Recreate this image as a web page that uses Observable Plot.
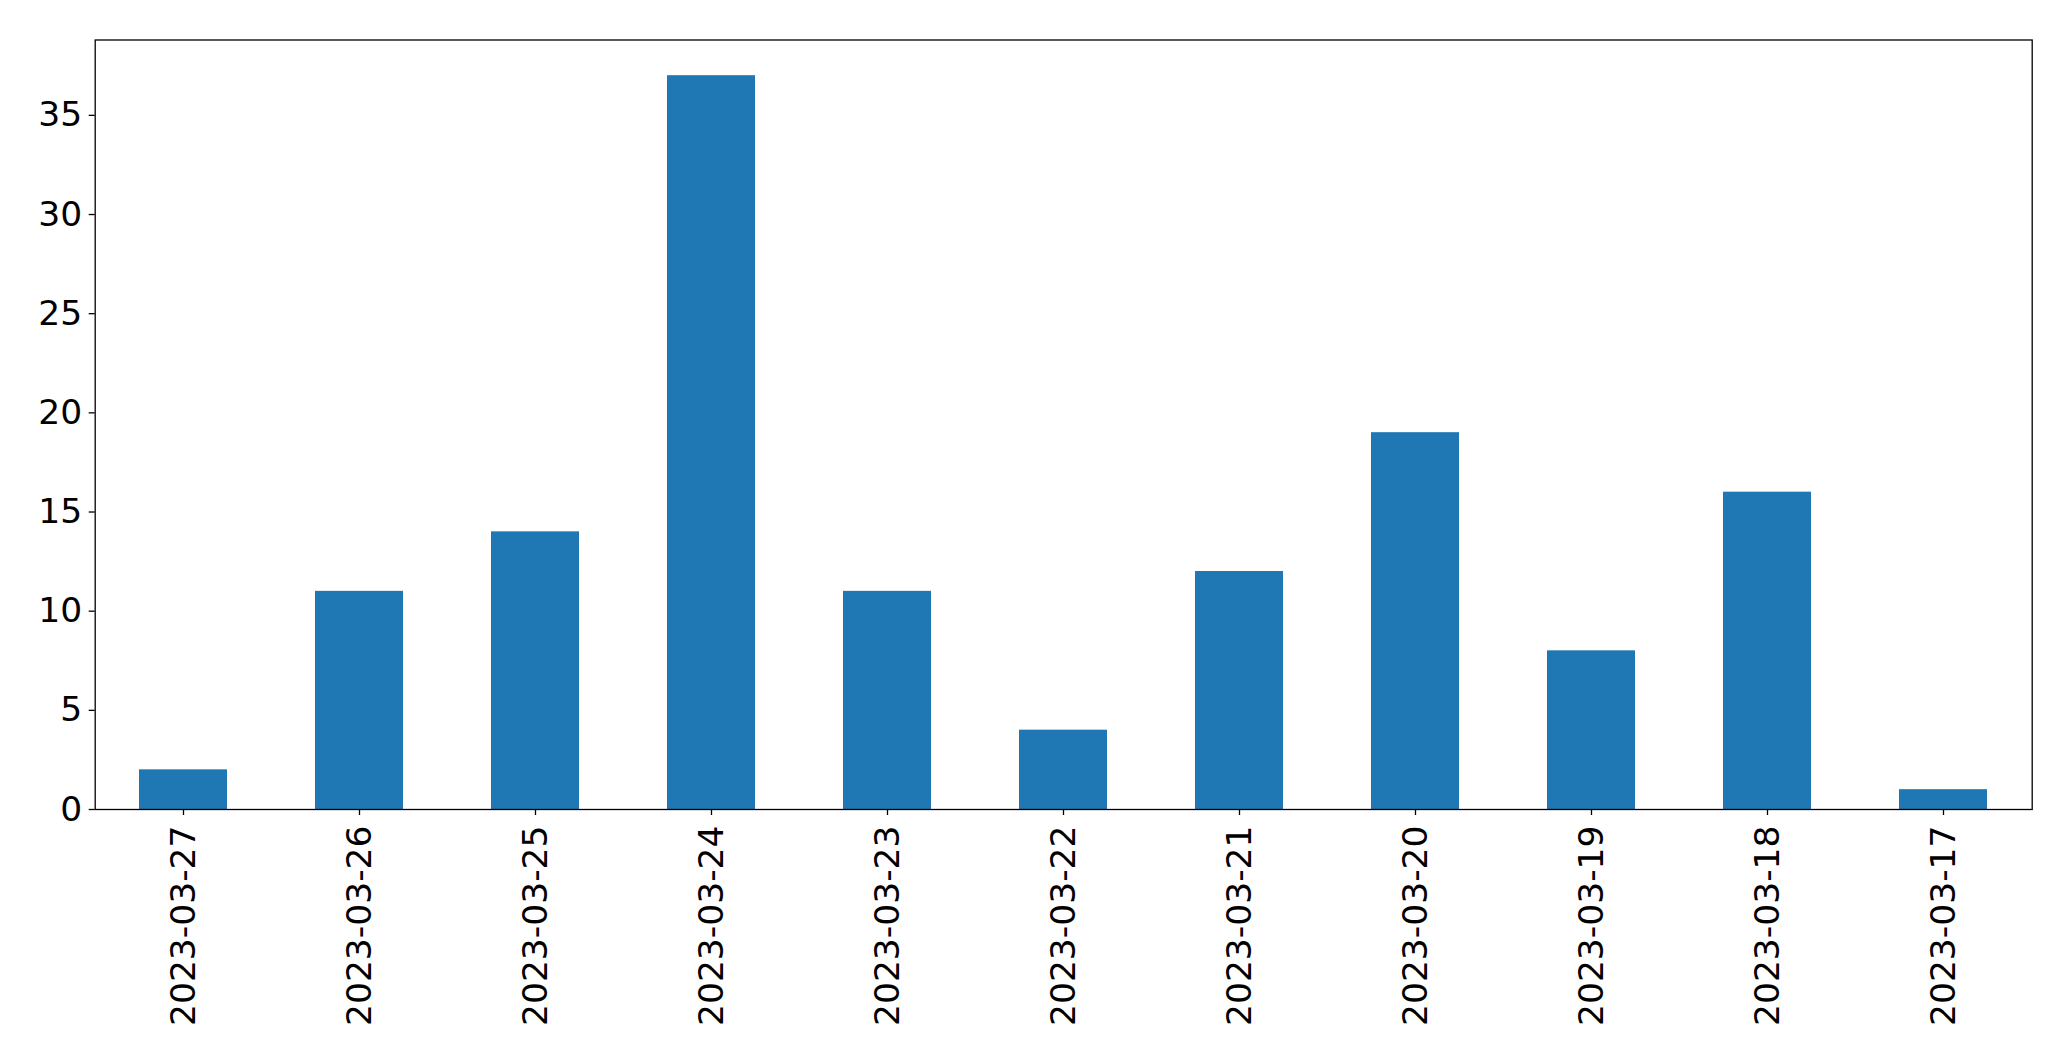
<!DOCTYPE html>
<html>
<head>
<meta charset="utf-8">
<script src="https://cdn.jsdelivr.net/npm/d3@7"></script>
<script src="https://cdn.jsdelivr.net/npm/@observablehq/plot@0.6"></script>
<style>
  html, body { margin: 0; padding: 0; background: #fff; overflow: hidden; }
  #chart svg { display: block; font-family: "DejaVu Sans", sans-serif; }
</style>
</head>
<body>
<div id="chart"></div>
<script>
const dates = ["2023-03-27","2023-03-26","2023-03-25","2023-03-24","2023-03-23","2023-03-22","2023-03-21","2023-03-20","2023-03-19","2023-03-18","2023-03-17"];
const counts = [2, 11, 14, 37, 11, 4, 12, 19, 8, 16, 1];
const yTicks = [0, 5, 10, 15, 20, 25, 30, 35];

const data = dates.map((d, i) => ({date: d, count: counts[i]}));

const chart = Plot.plot({
  width: 2071,
  height: 1061,
  marginLeft: 94.7,
  marginRight: 39.3,
  marginTop: 39.5,
  marginBottom: 252,
  style: {fontFamily: "DejaVu Sans, sans-serif", background: "#fff", color: "black"},
  x: {domain: dates, paddingInner: 0.5, paddingOuter: 0.25, label: null},
  y: {domain: [0, 38.8], label: null},
  marks: [
    Plot.barY(data, {x: "date", y: "count", fill: "#1f77b4"}),
    Plot.frame({stroke: "black", strokeWidth: 1.3}),
    Plot.axisY({ticks: yTicks, tickSize: 6, tickPadding: 7, fontSize: 34.5, label: null, stroke: "black", strokeWidth: 1.3}),
    Plot.axisX({tickRotate: -90, tickSize: 6, tickPadding: 10, fontSize: 34.5, label: null, stroke: "black", strokeWidth: 1.3})
  ]
});
document.getElementById("chart").appendChild(chart);
</script>
</body>
</html>
